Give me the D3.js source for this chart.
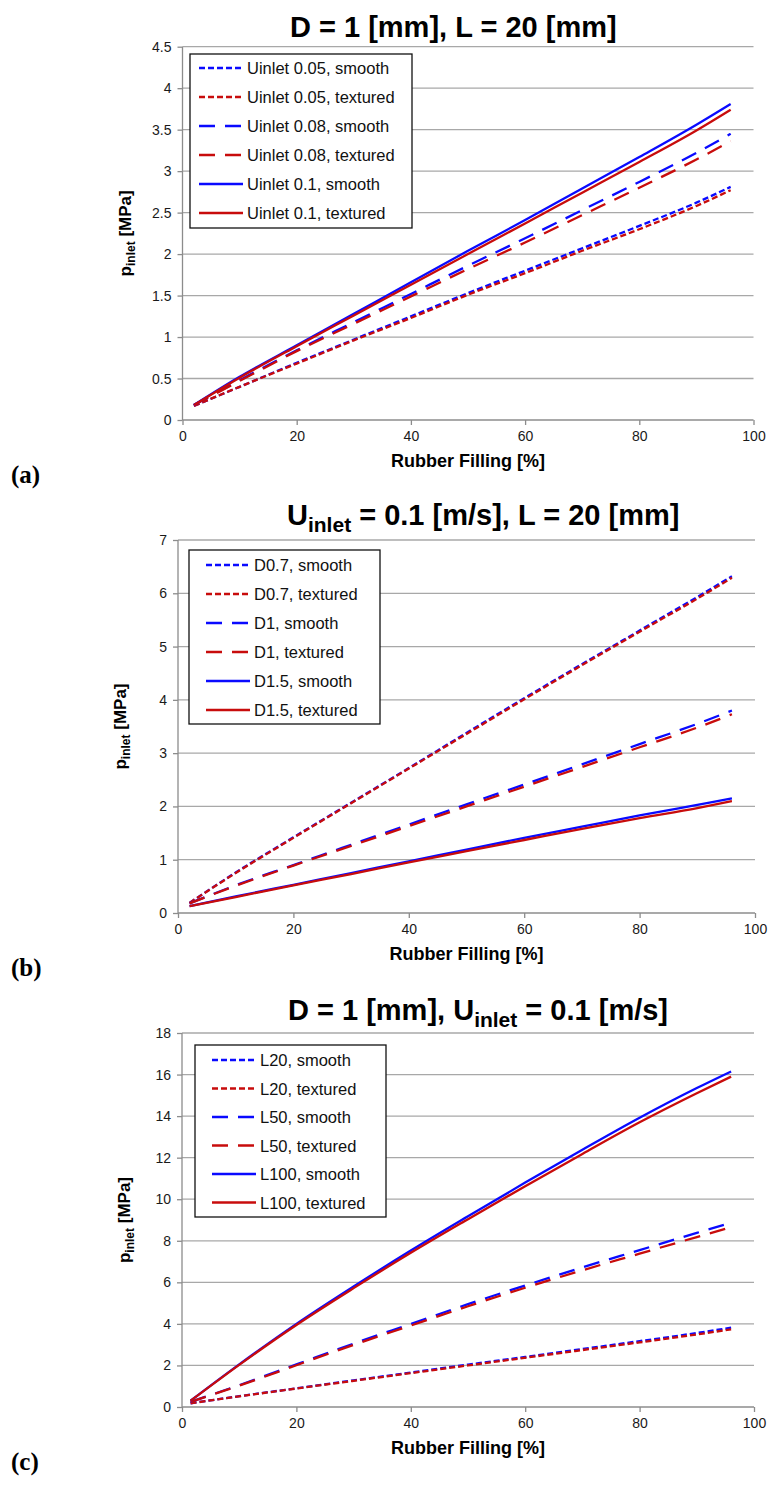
<!DOCTYPE html>
<html>
<head>
<meta charset="utf-8">
<script src="https://cdn.jsdelivr.net/npm/d3@7"></script>
<style>
  html, body { margin: 0; padding: 0; background: #fff; }
  svg { display: block; font-family: "Liberation Sans", Arial, sans-serif; }
</style>
</head>
<body>
<svg id="chart" width="774" height="1487"></svg>
<script>
// ---------- DATA ----------
const fillA = [2, 10, 20, 30, 40, 50, 60, 70, 80, 90, 96];
const fillB = [2, 10, 20, 30, 40, 50, 60, 70, 80, 90, 96];
const fillC = [1.5, 10, 20, 30, 40, 50, 60, 70, 80, 90, 96];

// Panel (a): D = 1 mm, L = 20 mm
const aU005Smooth   = [0.17, 0.40, 0.69, 0.97, 1.25, 1.53, 1.80, 2.07, 2.34, 2.62, 2.81];
const aU005Textured = [0.17, 0.40, 0.68, 0.96, 1.23, 1.51, 1.77, 2.04, 2.30, 2.58, 2.77];
const aU008Smooth   = [0.18, 0.48, 0.84, 1.18, 1.52, 1.86, 2.19, 2.53, 2.87, 3.22, 3.45];
const aU008Textured = [0.18, 0.47, 0.83, 1.16, 1.49, 1.82, 2.14, 2.47, 2.80, 3.14, 3.36];
const aU01Smooth    = [0.18, 0.52, 0.90, 1.28, 1.66, 2.04, 2.41, 2.79, 3.17, 3.56, 3.81];
const aU01Textured  = [0.18, 0.51, 0.89, 1.26, 1.63, 2.00, 2.37, 2.74, 3.11, 3.49, 3.74];

// Panel (b): Uinlet = 0.1 m/s, L = 20 mm
const bD07Smooth    = [0.19, 0.76, 1.42, 2.07, 2.72, 3.38, 4.03, 4.67, 5.30, 5.93, 6.32];
const bD07Textured  = [0.19, 0.75, 1.41, 2.06, 2.71, 3.36, 4.01, 4.65, 5.28, 5.90, 6.29];
const bD1Smooth     = [0.18, 0.52, 0.90, 1.28, 1.66, 2.04, 2.41, 2.79, 3.17, 3.55, 3.80];
const bD1Textured   = [0.18, 0.51, 0.89, 1.26, 1.63, 2.00, 2.37, 2.74, 3.11, 3.48, 3.73];
const bD15Smooth    = [0.13, 0.31, 0.53, 0.75, 0.97, 1.19, 1.41, 1.62, 1.83, 2.03, 2.15];
const bD15Textured  = [0.13, 0.30, 0.52, 0.73, 0.95, 1.16, 1.37, 1.58, 1.78, 1.97, 2.10];

// Panel (c): D = 1 mm, Uinlet = 0.1 m/s
const cL20Smooth    = [0.18, 0.52, 0.90, 1.28, 1.66, 2.04, 2.41, 2.79, 3.17, 3.56, 3.82];
const cL20Textured  = [0.18, 0.51, 0.89, 1.26, 1.63, 2.00, 2.37, 2.74, 3.11, 3.49, 3.74];
const cL50Smooth    = [0.25, 1.05, 2.05, 3.05, 4.00, 4.95, 5.85, 6.72, 7.55, 8.38, 8.87];
const cL50Textured  = [0.25, 1.03, 2.01, 2.99, 3.92, 4.85, 5.74, 6.58, 7.38, 8.18, 8.65];
const cL100Smooth   = [0.30, 2.05, 4.00, 5.80, 7.53, 9.18, 10.80, 12.38, 13.92, 15.35, 16.15];
const cL100Textured = [0.30, 2.03, 3.95, 5.72, 7.42, 9.04, 10.63, 12.18, 13.70, 15.10, 15.90];

const labelsA = ["Uinlet 0.05, smooth", "Uinlet 0.05, textured", "Uinlet 0.08, smooth", "Uinlet 0.08, textured", "Uinlet 0.1, smooth", "Uinlet 0.1, textured"];
const labelsB = ["D0.7, smooth", "D0.7, textured", "D1, smooth", "D1, textured", "D1.5, smooth", "D1.5, textured"];
const labelsC = ["L20, smooth", "L20, textured", "L50, smooth", "L50, textured", "L100, smooth", "L100, textured"];

const xTicks = [0, 20, 40, 60, 80, 100];
const yTicksA = [0, 0.5, 1, 1.5, 2, 2.5, 3, 3.5, 4, 4.5];
const yTicksB = [0, 1, 2, 3, 4, 5, 6, 7];
const yTicksC = [0, 2, 4, 6, 8, 10, 12, 14, 16, 18];

const xTitle = "Rubber Filling [%]";
const panelTags = ["(a)", "(b)", "(c)"];

// ---------- STYLE ----------
const BLUE = "#0a0aff";
const RED = "#c80c0c";
const styles = [
  { color: BLUE, dash: "6,3" },
  { color: RED,  dash: "6,3" },
  { color: BLUE, dash: "16,10" },
  { color: RED,  dash: "16,10" },
  { color: BLUE, dash: null },
  { color: RED,  dash: null }
];

const svg = d3.select("#chart");

function drawPanel(cfg) {
  const x = d3.scaleLinear().domain([0, 100]).range(cfg.xr);
  const y = d3.scaleLinear().domain([0, cfg.yMax]).range(cfg.yr);
  const g = svg.append("g");

  // gridlines
  g.append("g").selectAll("line").data(cfg.yTicks.filter(d => d > 0)).join("line")
    .attr("x1", x(0)).attr("x2", x(100))
    .attr("y1", d => y(d)).attr("y2", d => y(d))
    .attr("stroke", "#a8a8a8").attr("stroke-width", 1.3);

  // y axis
  const yAxis = d3.axisLeft(y).tickValues(cfg.yTicks).tickSize(5).tickPadding(6)
    .tickFormat(d => String(+d.toFixed(1)));
  const ya = g.append("g").attr("transform", `translate(${x(0)},0)`).call(yAxis);
  ya.select(".domain").attr("stroke", "#8c8c8c").attr("stroke-width", 1.3).attr("d", `M0,${y(0)}V${y(cfg.yMax)}`);
  ya.selectAll(".tick line").attr("stroke", "#8c8c8c").attr("stroke-width", 1.3);
  ya.selectAll(".tick text").attr("font-size", 14).attr("fill", "#1a1a1a")
    .attr("font-family", "Liberation Sans, Arial, sans-serif");

  // x axis
  const xAxis = d3.axisBottom(x).tickValues(xTicks).tickSize(5).tickPadding(6);
  const xa = g.append("g").attr("transform", `translate(0,${y(0)})`).call(xAxis);
  xa.select(".domain").attr("stroke", "#8c8c8c").attr("stroke-width", 1.3).attr("d", `M${x(0)},0H${x(100)}`);
  xa.selectAll(".tick line").attr("stroke", "#8c8c8c").attr("stroke-width", 1.3);
  xa.selectAll(".tick text").attr("font-size", 14).attr("fill", "#1a1a1a")
    .attr("font-family", "Liberation Sans, Arial, sans-serif");

  // series
  const line = d3.line().x(d => x(d[0])).y(d => y(d[1])).curve(d3.curveMonotoneX);
  cfg.series.forEach((vals, i) => {
    const pts = cfg.xs.map((xv, k) => [xv, vals[k]]);
    g.append("path").datum(pts).attr("d", line)
      .attr("fill", "none").attr("stroke", styles[i].color).attr("stroke-width", 2.3)
      .attr("stroke-dasharray", styles[i].dash);
  });

  // legend
  const lg = g.append("g");
  lg.append("rect").attr("x", cfg.leg.x).attr("y", cfg.leg.y)
    .attr("width", cfg.leg.w).attr("height", cfg.leg.h)
    .attr("fill", "#fff").attr("stroke", "#111").attr("stroke-width", 1.3);
  cfg.labels.forEach((lab, i) => {
    const ry = cfg.leg.y + cfg.leg.row0 + i * cfg.leg.step;
    lg.append("line").attr("x1", cfg.leg.x + cfg.leg.sx).attr("x2", cfg.leg.x + cfg.leg.sx + 44)
      .attr("y1", ry).attr("y2", ry)
      .attr("stroke", styles[i].color).attr("stroke-width", 2.3)
      .attr("stroke-dasharray", styles[i].dash);
    lg.append("text").attr("x", cfg.leg.x + cfg.leg.sx + 48).attr("y", ry + 6)
      .attr("font-size", 16.5).attr("fill", "#111").text(lab);
  });

  // title
  const t = svg.append("text").attr("x", cfg.titleX).attr("y", cfg.titleY)
    .attr("font-size", 29).attr("font-weight", "bold").attr("fill", "#000");
  cfg.title.forEach(part => {
    if (part.sub) {
      t.append("tspan").attr("font-size", 21).attr("dy", 7).text(part.t);
    } else {
      t.append("tspan").attr("font-size", 29).attr("dy", part.back ? -7 : 0).text(part.t);
    }
  });

  // y title
  const yt = svg.append("text")
    .attr("transform", `translate(${x(0) - 52},${(y(0) + y(cfg.yMax)) / 2}) rotate(-90)`)
    .attr("text-anchor", "middle").attr("font-size", 17).attr("font-weight", "bold").attr("fill", "#000");
  yt.append("tspan").text("p");
  yt.append("tspan").attr("font-size", 12).attr("dy", 4).text("inlet");
  yt.append("tspan").attr("dy", -4).text(" [MPa]");

  // x title
  svg.append("text").attr("x", (x(0) + x(100)) / 2).attr("y", y(0) + 47)
    .attr("text-anchor", "middle").attr("font-size", 18).attr("font-weight", "bold")
    .attr("fill", "#000").text(xTitle);

  // panel tag
  svg.append("text").attr("x", 11).attr("y", y(0) + 63)
    .attr("font-family", "Liberation Serif, 'DejaVu Serif', serif")
    .attr("font-size", 25).attr("font-weight", "bold").attr("fill", "#000").text(cfg.tag);
}

drawPanel({
  xr: [182.5, 753.5], yr: [420, 46.7], yMax: 4.5, yTicks: yTicksA, xs: fillA,
  series: [aU005Smooth, aU005Textured, aU008Smooth, aU008Textured, aU01Smooth, aU01Textured],
  labels: labelsA,
  leg: { x: 190, y: 54, w: 222, h: 174, row0: 14, step: 29, sx: 9 },
  title: [{ t: "D = 1 [mm], L = 20 [mm]" }], titleX: 290, titleY: 37,
  tag: panelTags[0]
});

drawPanel({
  xr: [178, 755], yr: [913, 540], yMax: 7, yTicks: yTicksB, xs: fillB,
  series: [bD07Smooth, bD07Textured, bD1Smooth, bD1Textured, bD15Smooth, bD15Textured],
  labels: labelsB,
  leg: { x: 189, y: 550, w: 191, h: 174, row0: 15, step: 29, sx: 17 },
  title: [{ t: "U" }, { t: "inlet", sub: true }, { t: " = 0.1 [m/s], L = 20 [mm]", back: true }],
  titleX: 287, titleY: 525,
  tag: panelTags[1]
});

drawPanel({
  xr: [182, 754], yr: [1407, 1033], yMax: 18, yTicks: yTicksC, xs: fillC,
  series: [cL20Smooth, cL20Textured, cL50Smooth, cL50Textured, cL100Smooth, cL100Textured],
  labels: labelsC,
  leg: { x: 195, y: 1045, w: 191, h: 172, row0: 15, step: 28.5, sx: 17 },
  title: [{ t: "D = 1 [mm], U" }, { t: "inlet", sub: true }, { t: " = 0.1 [m/s]", back: true }],
  titleX: 288, titleY: 1020,
  tag: panelTags[2]
});
</script>
</body>
</html>
